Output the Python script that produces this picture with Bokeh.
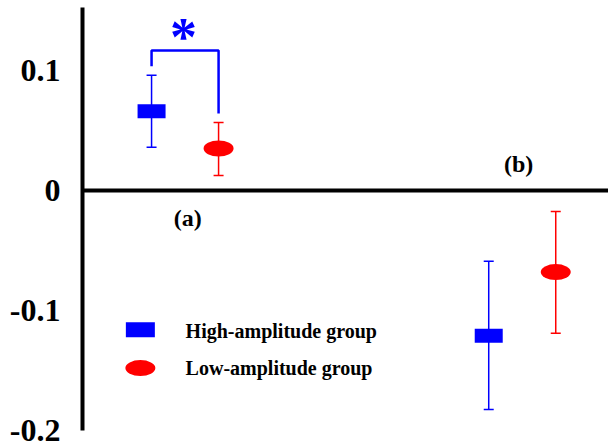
from bokeh.plotting import figure
from bokeh.models import Range1d, FixedTicker, Span
from bokeh.core.properties import value
from bokeh.embed import file_html
from bokeh.resources import INLINE

# ---- data ----
groups = ["(a)", "(b)"]
group_x = [1.95, 8.36]
offset = 0.637
high_mean = [0.066, -0.121]
high_upper = [0.096, -0.059]
high_lower = [0.036, -0.1825]
low_mean = [0.035, -0.068]
low_upper = [0.0567, -0.0175]
low_lower = [0.0125, -0.119]
series_labels = ["High-amplitude group", "Low-amplitude group"]
y_ticks = [-0.2, -0.1, 0, 0.1]
tick_labels = ["-0.2", "-0.1", "0", "0.1"]
sig_label = "*"

FONT = value("Liberation Serif")
BLUE = "#0000ff"
RED = "#ff0000"

p = figure(width=608, height=448, output_backend="svg", toolbar_location=None,
           x_range=Range1d(0, 10), y_range=Range1d(-0.2, 0.1525),
           x_axis_type=None, min_border_left=82, min_border_right=0,
           min_border_top=7, min_border_bottom=18)
p.outline_line_color = None
p.grid.visible = False

ax = p.yaxis[0]
ax.ticker = FixedTicker(ticks=y_ticks)
ax.major_label_overrides = {t: s for t, s in zip(y_ticks, tick_labels)}
ax.axis_line_width = 4
ax.axis_line_color = "black"
ax.major_tick_line_color = None
ax.minor_tick_line_color = None
ax.major_tick_out = 0
ax.major_tick_in = 0
ax.major_label_standoff = 22
ax.major_label_text_font = "Liberation Serif"
ax.major_label_text_font_style = "bold"
ax.major_label_text_font_size = "32px"
ax.major_label_text_color = "black"

p.add_layout(Span(location=0, dimension="width", line_color="black", line_width=4))

# high group on the left, low group on the right of each group centre
hx = [g - offset for g in group_x]
lx = [g + offset for g in group_x]

# error bars
p.segment(hx, high_lower, hx, high_upper, line_color=BLUE, line_width=1.5)
p.scatter(hx + hx, high_lower + high_upper, marker="dash", size=10,
          line_color=BLUE, line_width=1.5)
p.segment(lx, low_lower, lx, low_upper, line_color=RED, line_width=1.5)
p.scatter(lx + lx, low_lower + low_upper, marker="dash", size=10,
          line_color=RED, line_width=1.5)

# means
p.rect(hx, high_mean, width=28, height=14, width_units="screen",
       height_units="screen", fill_color=BLUE, line_color=None)
p.ellipse(lx, low_mean, width=30, height=16, width_units="screen",
          height_units="screen", fill_color=RED, line_color=None)

# significance bracket on group (a)
gap = 0.0075
top = 0.1167
p.line([hx[0], hx[0], lx[0], lx[0]],
       [high_upper[0] + gap, top, top, low_upper[0] + gap],
       line_color=BLUE, line_width=2.5)
p.text([group_x[0] - 0.03], [top + 0.011], text=[sig_label], text_font=FONT,
       text_font_style="bold", text_font_size="54px", text_color=BLUE,
       text_align="center", text_baseline="middle")

# group labels
p.text([group_x[0] + 0.05], [-0.0225], text=[groups[0]], text_font=FONT,
       text_font_style="bold", text_font_size="24px", text_color="black",
       text_align="center", text_baseline="middle")
p.text([group_x[1] - 0.07], [0.0225], text=[groups[1]], text_font=FONT,
       text_font_style="bold", text_font_size="24px", text_color="black",
       text_align="center", text_baseline="middle")

# legend (manual)
leg_x = 1.10
leg_y = [-0.116, -0.148]
p.rect([leg_x], [leg_y[0]], width=29, height=15, width_units="screen",
       height_units="screen", fill_color=BLUE, line_color=None)
p.ellipse([leg_x], [leg_y[1]], width=30, height=16, width_units="screen",
          height_units="screen", fill_color=RED, line_color=None)
p.text([1.96, 1.96], [leg_y[0] - 0.0013, leg_y[1]], text=series_labels,
       text_font=FONT, text_font_style="bold", text_font_size="20px",
       text_color="black", text_align="left", text_baseline="middle")

open("out.html", "w").write(file_html(p, INLINE))
